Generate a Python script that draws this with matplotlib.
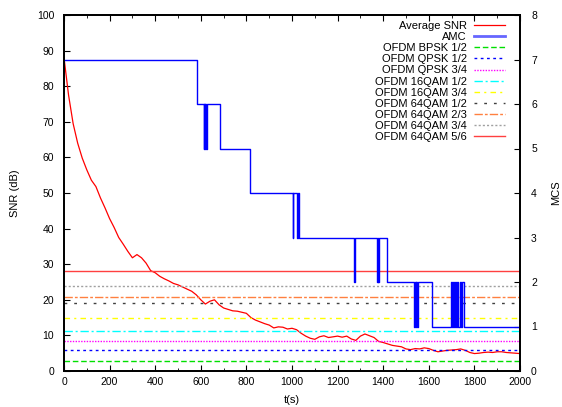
import numpy as np
import matplotlib
matplotlib.use("Agg")
import matplotlib.pyplot as plt
from matplotlib.ticker import MultipleLocator

plt.rcParams['font.family'] = ['Liberation Sans', 'DejaVu Sans']

# average SNR, sampled every 20 s
t_snr = np.arange(0, 2001, 20)
snr = [88.0, 77.5, 69.5, 64.0, 59.8, 56.5, 53.6, 51.8, 48.6, 45.8,
       42.8, 40.3, 37.5, 35.6, 33.6, 31.8, 32.7, 31.8, 30.3, 28.2,
       27.6, 26.6, 25.9, 25.3, 24.6, 24.2, 23.6, 23.0, 22.4, 21.4,
       20.0, 18.8, 19.6, 20.0, 18.6, 17.7, 17.3, 16.9, 16.8, 16.5,
       16.2, 15.0, 14.3, 13.8, 13.3, 12.9, 12.1, 12.4, 12.3, 11.8,
       12.0, 11.6, 10.6, 9.8, 9.2, 8.9, 9.6, 9.9, 9.4, 9.6,
       9.8, 9.5, 9.8, 9.0, 8.6, 9.8, 10.4, 9.9, 9.4, 8.3,
       8.0, 7.6, 7.2, 7.0, 6.8, 6.2, 6.0, 6.3, 6.2, 6.5,
       6.3, 5.8, 5.4, 5.6, 5.8, 5.9, 6.0, 6.2, 5.8, 5.2,
       4.9, 5.0, 5.2, 5.3, 5.2, 5.4, 5.4, 5.2, 5.1, 5.0, 4.9]

# AMC selected MCS (change points)
amc_t = [0, 583, 612, 614, 617, 620, 622, 626, 683, 815,
         1003, 1006, 1022, 1026, 1030, 1272, 1275,
         1371, 1375, 1379, 1383, 1415,
         1536, 1539, 1542, 1546, 1549, 1552, 1612,
         1697, 1702, 1708, 1712, 1716, 1720, 1724, 1728,
         1738, 1742, 1745, 1755, 2000]
amc_mcs = [7, 6, 5, 6, 5, 6, 5, 6, 5, 4,
           3, 4, 3, 4, 3, 2, 3,
           2, 3, 2, 3, 2,
           1, 2, 1, 2, 1, 2, 1,
           2, 1, 2, 1, 2, 1, 2, 1,
           2, 1, 2, 1, 1]

# SNR thresholds of each mode
modes = ['OFDM BPSK 1/2', 'OFDM QPSK 1/2', 'OFDM QPSK 3/4', 'OFDM 16QAM 1/2',
         'OFDM 16QAM 3/4', 'OFDM 64QAM 1/2', 'OFDM 64QAM 2/3', 'OFDM 64QAM 3/4',
         'OFDM 64QAM 5/6']
thresholds = [2.8, 5.9, 8.4, 11.3, 14.8, 19.0, 20.9, 24.0, 28.0]
mode_colors = ['#00e000', '#0000ff', '#ff00ff', '#00ffff', '#ffff00',
               '#404040', '#ff8040', '#a0a0a0', '#ff4040']
mode_styles = [(0, (4, 2)), (0, (2, 2.5)), (0, (1, 1)), (0, (6, 2, 1.5, 2)),
               (0, (4, 3, 1.5, 3)), (0, (2, 5)), (0, (6, 1.5, 2, 1.5)),
               (0, (1.5, 1.5)), '-']

fig = plt.figure(figsize=(5.62, 4.07), dpi=100)
ax = fig.add_axes([64 / 562, 36 / 407, 456 / 562, 356 / 407])
ax2 = ax.twinx()

handles = []
h, = ax.plot(t_snr, snr, color='#ff0000', lw=0.9, label='Average SNR')
handles.append(h)
h, = ax2.plot(amc_t, amc_mcs, color='#0000ff', lw=1.0, drawstyle='steps-post', label='AMC')
handles.append(h)
for name, th, c, ls in zip(modes, thresholds, mode_colors, mode_styles):
    h = ax.axhline(th, color=c, ls=ls, lw=1.0, label=name)
    handles.append(h)

ax.set_xlim(0, 2000)
ax.set_ylim(0, 100)
ax2.set_ylim(0, 8)
ax.xaxis.set_major_locator(MultipleLocator(200))
ax.xaxis.set_minor_locator(MultipleLocator(100))
ax.yaxis.set_major_locator(MultipleLocator(10))
ax2.yaxis.set_major_locator(MultipleLocator(1))

ax.tick_params(axis='x', which='both', direction='in', top=True, labelsize=7.5, pad=4)
ax.tick_params(axis='x', which='major', length=4)
ax.tick_params(axis='x', which='minor', length=2)
ax.tick_params(axis='y', direction='in', labelsize=7.5, length=4, pad=7)
ax2.tick_params(axis='y', direction='in', labelsize=7.5, length=4, pad=8)
for a in (ax, ax2):
    for s in a.spines.values():
        s.set_linewidth(1.3)

ax.set_xlabel('t(s)', fontsize=8, labelpad=6)
ax.set_ylabel('SNR (dB)', fontsize=8, labelpad=12)
ax2.set_ylabel('MCS', fontsize=8, labelpad=10)

leg = ax2.legend(handles=handles, loc='upper right', frameon=False, fontsize=8,
                 markerfirst=False, handlelength=2.85, handletextpad=0.6,
                 labelspacing=0.1, borderaxespad=0.3, bbox_to_anchor=(0.985, 1.005))
for col in leg._legend_handle_box.get_children():
    col.align = 'right'
leg.get_lines()[1].set_linewidth(2.0)
leg.get_lines()[1].set_alpha(0.6)

fig.savefig('out.png', dpi=100)
